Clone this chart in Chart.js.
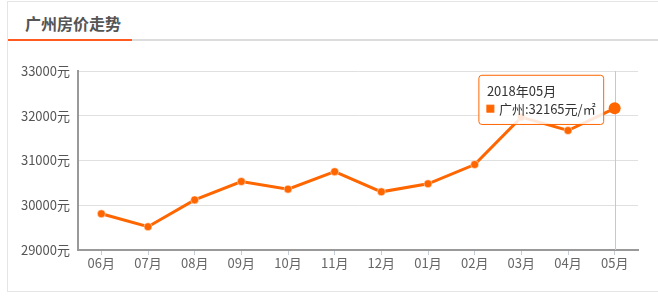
<!DOCTYPE html>
<html>
<head>
<meta charset="utf-8">
<script src="https://cdn.jsdelivr.net/npm/chart.js@4/dist/chart.umd.min.js"></script>
<style>
    body { margin: 0; background: #fff; font-family: "Microsoft YaHei", "Noto Sans CJK SC", sans-serif; }
    .box { position: absolute; left: 7px; top: 1px; width: 660px; height: 289px; border: 1px solid #e5e5e5; }
    .head { position: absolute; left: 0; top: 0; width: 100%; height: 37px; border-bottom: 2px solid #dcdcdc; }
    .head span { position: absolute; left: 0; top: 0; width: 107px; height: 37px; padding-left: 17px;
        line-height: 42px; font-size: 16px; font-weight: bold; color: #555; border-bottom: 2px solid #ff5a1f; }
    .wrap { position: absolute; left: 8px; top: 50px; width: 650px; height: 240px; }
</style>
</head>
<body>
<div class="box">
    <div class="head"><span>广州房价走势</span></div>
</div>
<div class="wrap"><canvas id="priceChart"></canvas></div>
<script>
// 月份与均价（元/㎡）
const months = ["06月", "07月", "08月", "09月", "10月", "11月", "12月", "01月", "02月", "03月", "04月", "05月"];
const years = ["2017", "2017", "2017", "2017", "2017", "2017", "2017", "2018", "2018", "2018", "2018", "2018"];
const prices = [29810, 29520, 30120, 30530, 30360, 30750, 30300, 30480, 30910, 31970, 31670, 32165];
const yTicks = [29000, 30000, 31000, 32000, 33000];

const orange = "#ff6600";
const fontFamily = '"Microsoft YaHei", "Noto Sans CJK SC", sans-serif';

// 鼠标悬停时的竖线
const crossLine = {
    id: "crossLine",
    beforeDatasetsDraw(chart) {
        let active = chart.tooltip.getActiveElements();
        if (!active.length) return;
        let x = active[0].element.x;
        let area = chart.chartArea;
        let ctx = chart.ctx;
        ctx.save();
        ctx.strokeStyle = "#c8c8c8";
        ctx.lineWidth = 1;
        ctx.beginPath();
        ctx.moveTo(Math.round(x) + 0.5, area.top);
        ctx.lineTo(Math.round(x) + 0.5, area.bottom);
        ctx.stroke();
        ctx.restore();
    }
};

Chart.Tooltip.positioners.leftOfPoint = function (items) {
    if (!items.length) return false;
    let el = items[0].element;
    return { x: el.x - 11, y: el.y - 8.5 };
};

let ctx = document.getElementById("priceChart").getContext("2d");
let chart = new Chart(ctx, {
    type: "line",
    data: {
        labels: months,
        datasets: [{
            label: "广州",
            data: prices,
            borderColor: orange,
            backgroundColor: orange,
            borderWidth: 3,
            pointRadius: 4,
            pointBorderWidth: 1,
            pointBorderColor: "rgba(255,255,255,0.5)",
            pointBackgroundColor: orange,
            pointHoverRadius: 6,
            pointHoverBorderWidth: 0,
            pointHoverBackgroundColor: orange,
            tension: 0
        }]
    },
    options: {
        responsive: true,
        maintainAspectRatio: false,
        animation: false,
        events: [],
        layout: { padding: { top: 21, right: 20, bottom: 0, left: 0 } },
        scales: {
            x: {
                offset: true,
                border: { color: "#999", width: 2 },
                grid: { offset: false, drawOnChartArea: false, tickLength: 5, color: "#c5cdd8" },
                ticks: { color: "#666", padding: 0, font: { family: fontFamily, size: 13 } },
                afterFit: s => { s.height = 40; }
            },
            y: {
                min: 29000,
                max: 33000,
                afterBuildTicks: s => { s.ticks = yTicks.map(v => ({ value: v })); },
                border: { color: "#999", width: 2 },
                grid: { color: "#e0e0e0", drawTicks: false },
                ticks: {
                    color: "#555",
                    padding: 8,
                    font: { family: fontFamily, size: 13 },
                    callback: v => v + "元"
                },
                afterFit: s => { s.width = 70; }
            }
        },
        plugins: {
            legend: { display: false },
            tooltip: {
                position: "leftOfPoint",
                xAlign: "right",
                yAlign: "center",
                caretSize: 0,
                caretPadding: 0,
                backgroundColor: "rgba(255,255,255,0.85)",
                borderColor: orange,
                borderWidth: 1,
                cornerRadius: 3,
                padding: { left: 8, right: 8, top: 8, bottom: 8 },
                titleColor: "#333",
                titleFont: { family: fontFamily, size: 13, weight: "normal" },
                titleMarginBottom: 2,
                bodyColor: "#333",
                bodyFont: { family: fontFamily, size: 13 },
                boxWidth: 7,
                boxHeight: 7,
                boxPadding: 3,
                multiKeyBackground: orange,
                callbacks: {
                    title: items => years[items[0].dataIndex] + "年" + months[items[0].dataIndex],
                    label: item => item.dataset.label + ":" + item.raw + "元/㎡",
                    labelColor: () => ({ borderColor: orange, backgroundColor: orange, borderWidth: 0 })
                }
            }
        }
    },
    plugins: [crossLine]
});

let last = [{ datasetIndex: 0, index: prices.length - 1 }];
chart.setActiveElements(last);
chart.tooltip.setActiveElements(last, { x: 0, y: 0 });
chart.update();
</script>
</body>
</html>
